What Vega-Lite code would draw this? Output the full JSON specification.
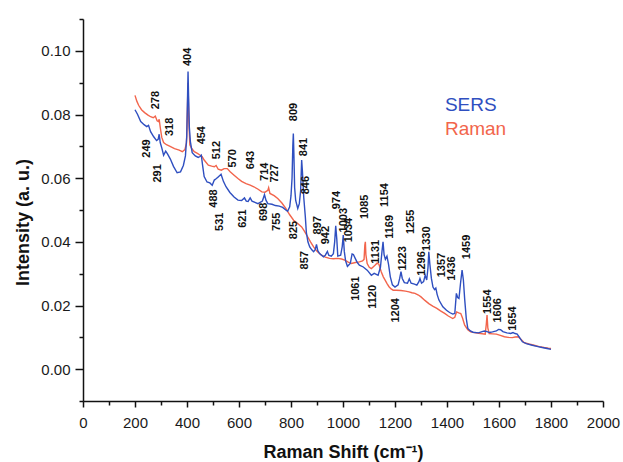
{
  "$schema": "https://vega.github.io/schema/vega-lite/v6.json",
  "width": 520,
  "height": 382,
  "autosize": {"type": "none"},
  "padding": {"left": 83, "top": 19, "right": 20, "bottom": 61},
  "background": "white",
  "config": {"view": {"stroke": null}, "font": "Liberation Sans"},
  "datasets": {
    "spectra": [
      {"series":"Raman","shift":200,"intensity":0.0860},{"series":"Raman","shift":207,"intensity":0.0842},{"series":"Raman","shift":214,"intensity":0.0829},{"series":"Raman","shift":225,"intensity":0.0815},{"series":"Raman","shift":237,"intensity":0.0806},{"series":"Raman","shift":250,"intensity":0.0798},{"series":"Raman","shift":260,"intensity":0.0793},{"series":"Raman","shift":270,"intensity":0.0790},{"series":"Raman","shift":278,"intensity":0.0795},{"series":"Raman","shift":285,"intensity":0.0780},{"series":"Raman","shift":290,"intensity":0.0778},{"series":"Raman","shift":293,"intensity":0.0785},{"series":"Raman","shift":297,"intensity":0.0760},{"series":"Raman","shift":303,"intensity":0.0728},{"series":"Raman","shift":310,"intensity":0.0712},{"series":"Raman","shift":321,"intensity":0.0705},{"series":"Raman","shift":335,"intensity":0.0700},{"series":"Raman","shift":352,"intensity":0.0693},{"series":"Raman","shift":370,"intensity":0.0688},{"series":"Raman","shift":382,"intensity":0.0683},{"series":"Raman","shift":392,"intensity":0.0690},{"series":"Raman","shift":398,"intensity":0.0710},{"series":"Raman","shift":401,"intensity":0.0800},{"series":"Raman","shift":404,"intensity":0.0900},{"series":"Raman","shift":407,"intensity":0.0780},{"series":"Raman","shift":411,"intensity":0.0705},{"series":"Raman","shift":418,"intensity":0.0693},{"series":"Raman","shift":428,"intensity":0.0683},{"series":"Raman","shift":440,"intensity":0.0678},{"series":"Raman","shift":451,"intensity":0.0672},{"series":"Raman","shift":458,"intensity":0.0668},{"series":"Raman","shift":466,"intensity":0.0657},{"series":"Raman","shift":482,"intensity":0.0641},{"series":"Raman","shift":495,"intensity":0.0638},{"series":"Raman","shift":505,"intensity":0.0636},{"series":"Raman","shift":512,"intensity":0.0640},{"series":"Raman","shift":520,"intensity":0.0628},{"series":"Raman","shift":532,"intensity":0.0625},{"series":"Raman","shift":543,"intensity":0.0630},{"series":"Raman","shift":555,"intensity":0.0630},{"series":"Raman","shift":566,"intensity":0.0620},{"series":"Raman","shift":580,"intensity":0.0610},{"series":"Raman","shift":596,"intensity":0.0599},{"series":"Raman","shift":610,"intensity":0.0590},{"series":"Raman","shift":627,"intensity":0.0583},{"series":"Raman","shift":643,"intensity":0.0578},{"series":"Raman","shift":657,"intensity":0.0573},{"series":"Raman","shift":672,"intensity":0.0566},{"series":"Raman","shift":688,"intensity":0.0557},{"series":"Raman","shift":700,"intensity":0.0556},{"series":"Raman","shift":711,"intensity":0.0562},{"series":"Raman","shift":714,"intensity":0.0570},{"series":"Raman","shift":719,"intensity":0.0552},{"series":"Raman","shift":735,"intensity":0.0545},{"series":"Raman","shift":749,"intensity":0.0536},{"series":"Raman","shift":765,"intensity":0.0522},{"series":"Raman","shift":780,"intensity":0.0505},{"series":"Raman","shift":795,"intensity":0.0485},{"series":"Raman","shift":810,"intensity":0.0468},{"series":"Raman","shift":825,"intensity":0.0458},{"series":"Raman","shift":841,"intensity":0.0447},{"series":"Raman","shift":852,"intensity":0.0433},{"series":"Raman","shift":864,"intensity":0.0416},{"series":"Raman","shift":875,"intensity":0.0400},{"series":"Raman","shift":887,"intensity":0.0384},{"series":"Raman","shift":900,"intensity":0.0370},{"series":"Raman","shift":917,"intensity":0.0358},{"series":"Raman","shift":932,"intensity":0.0352},{"series":"Raman","shift":948,"intensity":0.0348},{"series":"Raman","shift":963,"intensity":0.0347},{"series":"Raman","shift":979,"intensity":0.0348},{"series":"Raman","shift":995,"intensity":0.0346},{"series":"Raman","shift":1009,"intensity":0.0342},{"series":"Raman","shift":1020,"intensity":0.0336},{"series":"Raman","shift":1032,"intensity":0.0332},{"series":"Raman","shift":1048,"intensity":0.0335},{"series":"Raman","shift":1063,"intensity":0.0337},{"series":"Raman","shift":1075,"intensity":0.0340},{"series":"Raman","shift":1081,"intensity":0.0345},{"series":"Raman","shift":1084,"intensity":0.0390},{"series":"Raman","shift":1086,"intensity":0.0400},{"series":"Raman","shift":1088,"intensity":0.0360},{"series":"Raman","shift":1093,"intensity":0.0332},{"series":"Raman","shift":1101,"intensity":0.0320},{"series":"Raman","shift":1109,"intensity":0.0316},{"series":"Raman","shift":1117,"intensity":0.0322},{"series":"Raman","shift":1124,"intensity":0.0327},{"series":"Raman","shift":1131,"intensity":0.0333},{"series":"Raman","shift":1138,"intensity":0.0330},{"series":"Raman","shift":1147,"intensity":0.0306},{"series":"Raman","shift":1155,"intensity":0.0290},{"series":"Raman","shift":1162,"intensity":0.0280},{"series":"Raman","shift":1170,"intensity":0.0268},{"series":"Raman","shift":1177,"intensity":0.0259},{"series":"Raman","shift":1185,"intensity":0.0252},{"series":"Raman","shift":1193,"intensity":0.0248},{"series":"Raman","shift":1205,"intensity":0.0248},{"series":"Raman","shift":1223,"intensity":0.0247},{"series":"Raman","shift":1240,"intensity":0.0245},{"series":"Raman","shift":1254,"intensity":0.0243},{"series":"Raman","shift":1265,"intensity":0.0240},{"series":"Raman","shift":1277,"intensity":0.0238},{"series":"Raman","shift":1290,"intensity":0.0233},{"series":"Raman","shift":1300,"intensity":0.0227},{"series":"Raman","shift":1315,"intensity":0.0216},{"series":"Raman","shift":1330,"intensity":0.0206},{"series":"Raman","shift":1345,"intensity":0.0198},{"series":"Raman","shift":1361,"intensity":0.0191},{"series":"Raman","shift":1375,"intensity":0.0183},{"series":"Raman","shift":1391,"intensity":0.0175},{"series":"Raman","shift":1405,"intensity":0.0167},{"series":"Raman","shift":1422,"intensity":0.0159},{"series":"Raman","shift":1430,"intensity":0.0163},{"series":"Raman","shift":1437,"intensity":0.0180},{"series":"Raman","shift":1445,"intensity":0.0177},{"series":"Raman","shift":1453,"intensity":0.0175},{"series":"Raman","shift":1460,"intensity":0.0160},{"series":"Raman","shift":1468,"intensity":0.0138},{"series":"Raman","shift":1480,"intensity":0.0124},{"series":"Raman","shift":1491,"intensity":0.0117},{"series":"Raman","shift":1510,"intensity":0.0114},{"series":"Raman","shift":1529,"intensity":0.0112},{"series":"Raman","shift":1547,"intensity":0.0110},{"series":"Raman","shift":1551,"intensity":0.0140},{"series":"Raman","shift":1554,"intensity":0.0170},{"series":"Raman","shift":1557,"intensity":0.0130},{"series":"Raman","shift":1562,"intensity":0.0112},{"series":"Raman","shift":1575,"intensity":0.0111},{"series":"Raman","shift":1590,"intensity":0.0110},{"series":"Raman","shift":1605,"intensity":0.0106},{"series":"Raman","shift":1621,"intensity":0.0102},{"series":"Raman","shift":1635,"intensity":0.0100},{"series":"Raman","shift":1651,"intensity":0.0099},{"series":"Raman","shift":1662,"intensity":0.0101},{"series":"Raman","shift":1674,"intensity":0.0102},{"series":"Raman","shift":1685,"intensity":0.0093},{"series":"Raman","shift":1697,"intensity":0.0083},{"series":"Raman","shift":1715,"intensity":0.0079},{"series":"Raman","shift":1735,"intensity":0.0075},{"series":"Raman","shift":1755,"intensity":0.0071},{"series":"Raman","shift":1774,"intensity":0.0068},{"series":"Raman","shift":1790,"intensity":0.0066},{"series":"Raman","shift":1800,"intensity":0.0065},
      {"series":"SERS","shift":200,"intensity":0.0815},{"series":"SERS","shift":210,"intensity":0.0800},{"series":"SERS","shift":222,"intensity":0.0778},{"series":"SERS","shift":235,"intensity":0.0768},{"series":"SERS","shift":245,"intensity":0.0762},{"series":"SERS","shift":252,"intensity":0.0766},{"series":"SERS","shift":260,"intensity":0.0746},{"series":"SERS","shift":272,"intensity":0.0730},{"series":"SERS","shift":283,"intensity":0.0718},{"series":"SERS","shift":289,"intensity":0.0722},{"series":"SERS","shift":293,"intensity":0.0738},{"series":"SERS","shift":297,"intensity":0.0712},{"series":"SERS","shift":303,"intensity":0.0695},{"series":"SERS","shift":310,"intensity":0.0672},{"series":"SERS","shift":318,"intensity":0.0685},{"series":"SERS","shift":325,"intensity":0.0676},{"series":"SERS","shift":336,"intensity":0.0660},{"series":"SERS","shift":348,"intensity":0.0637},{"series":"SERS","shift":362,"intensity":0.0617},{"series":"SERS","shift":375,"intensity":0.0620},{"series":"SERS","shift":386,"intensity":0.0640},{"series":"SERS","shift":394,"intensity":0.0670},{"series":"SERS","shift":399,"intensity":0.0730},{"series":"SERS","shift":402,"intensity":0.0850},{"series":"SERS","shift":404,"intensity":0.0935},{"series":"SERS","shift":406,"intensity":0.0860},{"series":"SERS","shift":409,"intensity":0.0760},{"series":"SERS","shift":413,"intensity":0.0715},{"series":"SERS","shift":420,"intensity":0.0680},{"series":"SERS","shift":432,"intensity":0.0670},{"series":"SERS","shift":443,"intensity":0.0665},{"series":"SERS","shift":450,"intensity":0.0668},{"series":"SERS","shift":455,"intensity":0.0672},{"series":"SERS","shift":460,"intensity":0.0640},{"series":"SERS","shift":466,"intensity":0.0605},{"series":"SERS","shift":477,"intensity":0.0588},{"series":"SERS","shift":488,"intensity":0.0585},{"series":"SERS","shift":497,"intensity":0.0578},{"series":"SERS","shift":505,"intensity":0.0594},{"series":"SERS","shift":512,"intensity":0.0598},{"series":"SERS","shift":520,"intensity":0.0604},{"series":"SERS","shift":531,"intensity":0.0612},{"series":"SERS","shift":540,"intensity":0.0590},{"series":"SERS","shift":550,"intensity":0.0573},{"series":"SERS","shift":565,"intensity":0.0555},{"series":"SERS","shift":581,"intensity":0.0541},{"series":"SERS","shift":596,"intensity":0.0531},{"series":"SERS","shift":610,"intensity":0.0530},{"series":"SERS","shift":621,"intensity":0.0538},{"series":"SERS","shift":628,"intensity":0.0528},{"series":"SERS","shift":635,"intensity":0.0527},{"series":"SERS","shift":643,"intensity":0.0538},{"series":"SERS","shift":650,"intensity":0.0528},{"series":"SERS","shift":673,"intensity":0.0520},{"series":"SERS","shift":690,"intensity":0.0528},{"series":"SERS","shift":698,"intensity":0.0548},{"series":"SERS","shift":704,"intensity":0.0530},{"series":"SERS","shift":711,"intensity":0.0520},{"series":"SERS","shift":727,"intensity":0.0518},{"series":"SERS","shift":740,"intensity":0.0514},{"series":"SERS","shift":755,"intensity":0.0512},{"series":"SERS","shift":768,"intensity":0.0508},{"series":"SERS","shift":780,"intensity":0.0500},{"series":"SERS","shift":787,"intensity":0.0496},{"series":"SERS","shift":795,"intensity":0.0510},{"series":"SERS","shift":800,"intensity":0.0545},{"series":"SERS","shift":804,"intensity":0.0600},{"series":"SERS","shift":807,"intensity":0.0700},{"series":"SERS","shift":809,"intensity":0.0740},{"series":"SERS","shift":811,"intensity":0.0680},{"series":"SERS","shift":814,"intensity":0.0570},{"series":"SERS","shift":818,"intensity":0.0530},{"series":"SERS","shift":826,"intensity":0.0505},{"series":"SERS","shift":832,"intensity":0.0520},{"series":"SERS","shift":837,"intensity":0.0560},{"series":"SERS","shift":841,"intensity":0.0657},{"series":"SERS","shift":844,"intensity":0.0620},{"series":"SERS","shift":849,"intensity":0.0540},{"series":"SERS","shift":855,"intensity":0.0480},{"series":"SERS","shift":859,"intensity":0.0430},{"series":"SERS","shift":865,"intensity":0.0400},{"series":"SERS","shift":872,"intensity":0.0384},{"series":"SERS","shift":880,"intensity":0.0375},{"series":"SERS","shift":887,"intensity":0.0369},{"series":"SERS","shift":893,"intensity":0.0375},{"series":"SERS","shift":898,"intensity":0.0392},{"series":"SERS","shift":903,"intensity":0.0372},{"series":"SERS","shift":910,"intensity":0.0363},{"series":"SERS","shift":925,"intensity":0.0353},{"series":"SERS","shift":932,"intensity":0.0358},{"series":"SERS","shift":940,"intensity":0.0370},{"series":"SERS","shift":945,"intensity":0.0358},{"series":"SERS","shift":955,"intensity":0.0355},{"series":"SERS","shift":963,"intensity":0.0363},{"series":"SERS","shift":968,"intensity":0.0400},{"series":"SERS","shift":972,"intensity":0.0450},{"series":"SERS","shift":976,"intensity":0.0410},{"series":"SERS","shift":980,"intensity":0.0355},{"series":"SERS","shift":991,"intensity":0.0358},{"series":"SERS","shift":997,"intensity":0.0385},{"series":"SERS","shift":1001,"intensity":0.0421},{"series":"SERS","shift":1005,"intensity":0.0370},{"series":"SERS","shift":1010,"intensity":0.0340},{"series":"SERS","shift":1017,"intensity":0.0323},{"series":"SERS","shift":1028,"intensity":0.0332},{"series":"SERS","shift":1035,"intensity":0.0362},{"series":"SERS","shift":1040,"intensity":0.0360},{"series":"SERS","shift":1047,"intensity":0.0348},{"series":"SERS","shift":1055,"intensity":0.0335},{"series":"SERS","shift":1063,"intensity":0.0327},{"series":"SERS","shift":1078,"intensity":0.0321},{"series":"SERS","shift":1093,"intensity":0.0311},{"series":"SERS","shift":1109,"intensity":0.0295},{"series":"SERS","shift":1120,"intensity":0.0301},{"series":"SERS","shift":1128,"intensity":0.0298},{"series":"SERS","shift":1135,"intensity":0.0295},{"series":"SERS","shift":1144,"intensity":0.0320},{"series":"SERS","shift":1150,"intensity":0.0370},{"series":"SERS","shift":1154,"intensity":0.0400},{"series":"SERS","shift":1158,"intensity":0.0360},{"series":"SERS","shift":1163,"intensity":0.0345},{"series":"SERS","shift":1169,"intensity":0.0355},{"series":"SERS","shift":1175,"intensity":0.0330},{"series":"SERS","shift":1182,"intensity":0.0290},{"series":"SERS","shift":1190,"intensity":0.0265},{"series":"SERS","shift":1200,"intensity":0.0258},{"series":"SERS","shift":1212,"intensity":0.0265},{"series":"SERS","shift":1218,"intensity":0.0285},{"series":"SERS","shift":1223,"intensity":0.0306},{"series":"SERS","shift":1228,"intensity":0.0285},{"series":"SERS","shift":1236,"intensity":0.0272},{"series":"SERS","shift":1248,"intensity":0.0270},{"series":"SERS","shift":1255,"intensity":0.0284},{"series":"SERS","shift":1262,"intensity":0.0270},{"series":"SERS","shift":1275,"intensity":0.0267},{"series":"SERS","shift":1284,"intensity":0.0264},{"series":"SERS","shift":1292,"intensity":0.0275},{"series":"SERS","shift":1296,"intensity":0.0285},{"series":"SERS","shift":1302,"intensity":0.0270},{"series":"SERS","shift":1310,"intensity":0.0275},{"series":"SERS","shift":1316,"intensity":0.0295},{"series":"SERS","shift":1322,"intensity":0.0280},{"series":"SERS","shift":1327,"intensity":0.0320},{"series":"SERS","shift":1330,"intensity":0.0369},{"series":"SERS","shift":1334,"intensity":0.0330},{"series":"SERS","shift":1340,"intensity":0.0285},{"series":"SERS","shift":1346,"intensity":0.0258},{"series":"SERS","shift":1352,"intensity":0.0250},{"series":"SERS","shift":1357,"intensity":0.0255},{"series":"SERS","shift":1362,"intensity":0.0235},{"series":"SERS","shift":1369,"intensity":0.0217},{"series":"SERS","shift":1384,"intensity":0.0196},{"series":"SERS","shift":1398,"intensity":0.0185},{"series":"SERS","shift":1410,"intensity":0.0178},{"series":"SERS","shift":1422,"intensity":0.0173},{"series":"SERS","shift":1430,"intensity":0.0175},{"series":"SERS","shift":1436,"intensity":0.0238},{"series":"SERS","shift":1441,"intensity":0.0225},{"series":"SERS","shift":1446,"intensity":0.0222},{"series":"SERS","shift":1452,"intensity":0.0270},{"series":"SERS","shift":1458,"intensity":0.0311},{"series":"SERS","shift":1463,"intensity":0.0280},{"series":"SERS","shift":1468,"intensity":0.0220},{"series":"SERS","shift":1474,"intensity":0.0160},{"series":"SERS","shift":1480,"intensity":0.0128},{"series":"SERS","shift":1490,"intensity":0.0120},{"series":"SERS","shift":1500,"intensity":0.0116},{"series":"SERS","shift":1521,"intensity":0.0114},{"series":"SERS","shift":1535,"intensity":0.0118},{"series":"SERS","shift":1544,"intensity":0.0120},{"series":"SERS","shift":1554,"intensity":0.0118},{"series":"SERS","shift":1563,"intensity":0.0115},{"series":"SERS","shift":1575,"intensity":0.0117},{"series":"SERS","shift":1590,"intensity":0.0120},{"series":"SERS","shift":1598,"intensity":0.0125},{"series":"SERS","shift":1606,"intensity":0.0124},{"series":"SERS","shift":1615,"intensity":0.0118},{"series":"SERS","shift":1630,"intensity":0.0114},{"series":"SERS","shift":1645,"intensity":0.0112},{"series":"SERS","shift":1654,"intensity":0.0115},{"series":"SERS","shift":1662,"intensity":0.0112},{"series":"SERS","shift":1670,"intensity":0.0110},{"series":"SERS","shift":1680,"intensity":0.0098},{"series":"SERS","shift":1690,"intensity":0.0086},{"series":"SERS","shift":1705,"intensity":0.0080},{"series":"SERS","shift":1728,"intensity":0.0075},{"series":"SERS","shift":1750,"intensity":0.0071},{"series":"SERS","shift":1766,"intensity":0.0068},{"series":"SERS","shift":1785,"intensity":0.0065},{"series":"SERS","shift":1800,"intensity":0.0062}
    ],
    "peaks": [
      {"label":"404","shift":405,"intensity":0.0981},{"label":"278","shift":280,"intensity":0.0845},{"label":"318","shift":336,"intensity":0.0761},{"label":"249","shift":245,"intensity":0.0693},{"label":"291","shift":287,"intensity":0.0615},{"label":"454","shift":459,"intensity":0.0735},{"label":"512","shift":517,"intensity":0.0688},{"label":"570","shift":578,"intensity":0.0662},{"label":"643","shift":645,"intensity":0.0657},{"label":"714","shift":699,"intensity":0.0620},{"label":"727","shift":739,"intensity":0.0615},{"label":"488","shift":505,"intensity":0.0536},{"label":"531","shift":527,"intensity":0.0463},{"label":"621","shift":616,"intensity":0.0473},{"label":"698","shift":697,"intensity":0.0494},{"label":"755","shift":746,"intensity":0.0463},{"label":"809","shift":810,"intensity":0.0808},{"label":"841","shift":849,"intensity":0.0698},{"label":"846","shift":856,"intensity":0.0578},{"label":"825","shift":810,"intensity":0.0437},{"label":"857","shift":853,"intensity":0.0342},{"label":"897","shift":902,"intensity":0.0452},{"label":"942","shift":936,"intensity":0.0421},{"label":"974","shift":976,"intensity":0.0531},{"label":"1003","shift":1003,"intensity":0.0468},{"label":"1034","shift":1024,"intensity":0.0437},{"label":"1085","shift":1083,"intensity":0.0510},{"label":"1154","shift":1162,"intensity":0.0547},{"label":"1131","shift":1128,"intensity":0.0369},{"label":"1169","shift":1182,"intensity":0.0447},{"label":"1061","shift":1050,"intensity":0.0253},{"label":"1120","shift":1116,"intensity":0.0227},{"label":"1204","shift":1205,"intensity":0.0185},{"label":"1223","shift":1231,"intensity":0.0348},{"label":"1255","shift":1261,"intensity":0.0463},{"label":"1296","shift":1304,"intensity":0.0332},{"label":"1330","shift":1323,"intensity":0.0410},{"label":"1357","shift":1379,"intensity":0.0327},{"label":"1436","shift":1419,"intensity":0.0316},{"label":"1459","shift":1476,"intensity":0.0384},{"label":"1554","shift":1557,"intensity":0.0212},{"label":"1606","shift":1598,"intensity":0.0185},{"label":"1654","shift":1654,"intensity":0.0159}
    ],
    "legend": [
      {"series":"SERS","shift":1392,"intensity":0.0830},
      {"series":"Raman","shift":1392,"intensity":0.0756}
    ]
  },
  "encoding": {
    "x": {
      "field": "shift", "type": "quantitative",
      "scale": {"domain": [0, 2000], "nice": false, "zero": false},
      "axis": {
        "title": "Raman Shift (cm⁻¹)",
        "values": [0,100,200,300,400,500,600,700,800,900,1000,1100,1200,1300,1400,1500,1600,1700,1800,1900,2000],
        "format": "d",
        "labelExpr": "datum.value % 200 === 0 ? datum.label : ''",
        "tickSize": {"condition": {"test": "datum.value % 200 === 0", "value": 6}, "value": 4},
        "labelOverlap": false, "labelFlush": false, "labelPadding": 8,
        "labelFontSize": 15, "labelColor": "#1a1a1a", "labelFont": "Liberation Sans",
        "titleFontSize": 18, "titleFontWeight": "bold", "titleColor": "#111", "titleFont": "Liberation Sans", "titlePadding": 13,
        "grid": false, "domainColor": "#111", "domainWidth": 1.5, "tickColor": "#111", "tickWidth": 1.5
      }
    },
    "y": {
      "field": "intensity", "type": "quantitative",
      "scale": {"domain": [-0.01, 0.11], "nice": false, "zero": false},
      "axis": {
        "title": "Intensity (a. u.)",
        "titleY": 203,
        "values": [-0.01,0,0.01,0.02,0.03,0.04,0.05,0.06,0.07,0.08,0.09,0.1,0.11],
        "labelExpr": "abs(round(datum.value*100)) % 2 === 0 && datum.value >= 0 && datum.value < 0.105 ? format(datum.value, '.2f') : ''",
        "tickSize": {"condition": {"test": "abs(round(datum.value*100)) % 2 === 0", "value": 8}, "value": 4},
        "labelOverlap": false, "labelFlush": false, "labelPadding": 5,
        "labelFontSize": 15, "labelColor": "#1a1a1a", "labelFont": "Liberation Sans",
        "titleFontSize": 18, "titleFontWeight": "bold", "titleColor": "#111", "titleFont": "Liberation Sans", "titlePadding": 8,
        "grid": false, "domainColor": "#111", "domainWidth": 1.5, "tickColor": "#111", "tickWidth": 1.5
      }
    }
  },
  "layer": [
    {
      "data": {"name": "spectra"},
      "mark": {"type": "line", "strokeWidth": 1.4},
      "encoding": {
        "color": {"field": "series", "type": "nominal", "scale": {"domain": ["SERS", "Raman"], "range": ["#2f4fc0", "#f2654c"]}, "legend": null}
      }
    },
    {
      "data": {"name": "peaks"},
      "mark": {"type": "text", "angle": 270, "fontWeight": "bold", "fontSize": 11, "font": "Liberation Sans", "color": "#111", "align": "center", "baseline": "middle"},
      "encoding": {"text": {"field": "label", "type": "nominal"}}
    },
    {
      "data": {"name": "legend"},
      "mark": {"type": "text", "fontSize": 19, "font": "Liberation Sans", "align": "left", "baseline": "middle"},
      "encoding": {
        "text": {"field": "series", "type": "nominal"},
        "color": {"field": "series", "type": "nominal", "legend": null}
      }
    }
  ]
}
